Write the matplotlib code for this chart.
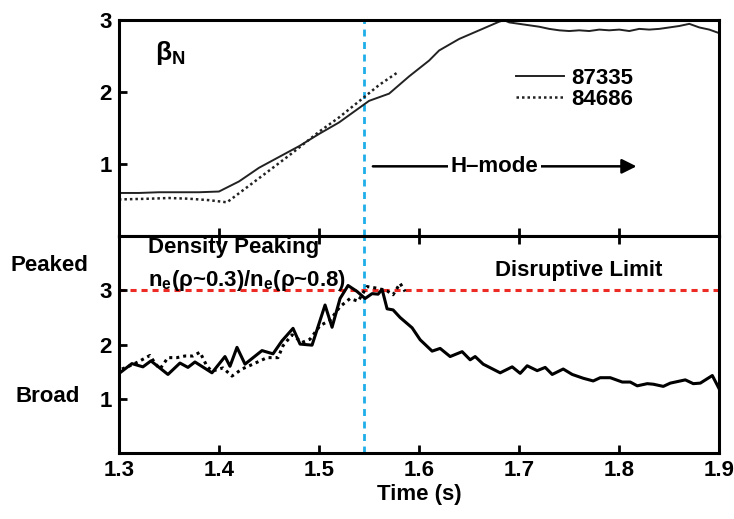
import numpy as np
import matplotlib
matplotlib.use("Agg")
import matplotlib.pyplot as plt

plt.rcParams['font.family'] = ['Liberation Sans', 'DejaVu Sans']
plt.rcParams['font.weight'] = 'bold'
plt.rcParams['axes.labelweight'] = 'bold'
plt.rcParams['mathtext.fontset'] = 'custom'
plt.rcParams['mathtext.rm'] = 'Liberation Sans:bold'
plt.rcParams['mathtext.it'] = 'Liberation Sans:bold'
plt.rcParams['mathtext.bf'] = 'Liberation Sans:bold'

# beta_N, shot 87335 (solid)
t_beta_a = [1.30, 1.32, 1.34, 1.36, 1.38, 1.40, 1.42, 1.44, 1.46, 1.48, 1.50, 1.52,
            1.54, 1.55, 1.56, 1.57, 1.58, 1.59, 1.60, 1.61, 1.62, 1.63, 1.64, 1.65,
            1.66, 1.67, 1.68, 1.685, 1.69, 1.70, 1.71, 1.72, 1.73, 1.74, 1.75, 1.76,
            1.77, 1.78, 1.79, 1.80, 1.81, 1.82, 1.83, 1.84, 1.85, 1.86, 1.87, 1.88,
            1.89, 1.90]
beta_a = [0.60, 0.60, 0.61, 0.61, 0.61, 0.62, 0.76, 0.95, 1.10, 1.25, 1.42, 1.58,
          1.78, 1.88, 1.93, 1.98, 2.10, 2.22, 2.33, 2.44, 2.58, 2.66, 2.74, 2.80,
          2.86, 2.92, 2.98, 3.00, 2.97, 2.95, 2.93, 2.91, 2.88, 2.86, 2.85, 2.86,
          2.85, 2.87, 2.86, 2.87, 2.85, 2.88, 2.87, 2.88, 2.90, 2.92, 2.95, 2.90,
          2.87, 2.82]

# beta_N, shot 84686 (dotted)
t_beta_b = [1.30, 1.33, 1.35, 1.37, 1.39, 1.408, 1.43, 1.451, 1.47, 1.50, 1.52,
            1.545, 1.56, 1.579]
beta_b = [0.51, 0.52, 0.53, 0.52, 0.50, 0.47, 0.70, 0.92, 1.12, 1.45, 1.65,
          1.93, 2.10, 2.28]

# density peaking, shot 87335 (solid)
t_peak_a = [1.301, 1.313, 1.324, 1.332, 1.349, 1.361, 1.369, 1.376, 1.393, 1.406,
            1.411, 1.418, 1.426, 1.443, 1.454, 1.463, 1.474, 1.481, 1.493, 1.506,
            1.513, 1.521, 1.529, 1.538, 1.546, 1.553, 1.559, 1.563, 1.568, 1.574,
            1.581, 1.593, 1.601, 1.613, 1.621, 1.631, 1.643, 1.651, 1.656, 1.664,
            1.681, 1.693, 1.701, 1.708, 1.718, 1.726, 1.733, 1.744, 1.753, 1.764,
            1.774, 1.781, 1.791, 1.803, 1.811, 1.818, 1.828, 1.834, 1.844, 1.851,
            1.866, 1.874, 1.881, 1.893, 1.900]
peak_a = [1.48, 1.65, 1.59, 1.70, 1.45, 1.66, 1.58, 1.68, 1.48, 1.78,
          1.60, 1.95, 1.64, 1.89, 1.83, 2.07, 2.30, 2.01, 1.99, 2.73,
          2.32, 2.85, 3.09, 2.98, 2.85, 2.94, 2.93, 3.02, 2.66, 2.64,
          2.50, 2.31, 2.09, 1.88, 1.93, 1.78, 1.87, 1.72, 1.78, 1.64,
          1.48, 1.59, 1.47, 1.61, 1.52, 1.58, 1.45, 1.55, 1.45, 1.38,
          1.33, 1.39, 1.39, 1.31, 1.31, 1.24, 1.28, 1.27, 1.23, 1.29,
          1.35, 1.28, 1.29, 1.43, 1.18]

# density peaking, shot 84686 (dotted)
t_peak_b = [1.303, 1.311, 1.319, 1.331, 1.336, 1.341, 1.349, 1.358, 1.366, 1.374,
            1.381, 1.388, 1.393, 1.404, 1.413, 1.423, 1.434, 1.448, 1.459, 1.464,
            1.473, 1.483, 1.491, 1.501, 1.511, 1.521, 1.531, 1.539, 1.548, 1.558,
            1.568, 1.574, 1.581, 1.586]
peak_b = [1.55, 1.61, 1.68, 1.80, 1.66, 1.55, 1.76, 1.76, 1.79, 1.79,
          1.86, 1.60, 1.51, 1.57, 1.42, 1.55, 1.64, 1.76, 1.76, 1.98,
          2.18, 2.04, 2.10, 2.35, 2.45, 2.70, 2.85, 2.80, 3.07, 3.04,
          2.99, 2.92, 3.13, 2.98]

shot_labels = ['87335', '84686']
t_hmode = 1.545
disruptive_limit = 3.0
x_ticks = [1.3, 1.4, 1.5, 1.6, 1.7, 1.8, 1.9]

fig = plt.figure(figsize=(7.34, 5.19), dpi=100)
ax1 = fig.add_axes([0.162, 0.545, 0.818, 0.416])
ax2 = fig.add_axes([0.162, 0.127, 0.818, 0.418])

blue = '#1eaee8'
red = '#ee2a24'

for ax in (ax1, ax2):
    ax.set_xlim(1.3, 1.9)
    ax.set_xticks(x_ticks)
    for s in ax.spines.values():
        s.set_linewidth(2.2)
    ax.tick_params(direction='in', length=6, width=2, labelsize=16, pad=5)
    ax.axvline(t_hmode, color=blue, lw=2, ls=(0, (2.5, 2)), zorder=1)

# top panel
l1, = ax1.plot(t_beta_a, beta_a, color='#222222', lw=1.4)
l2, = ax1.plot(t_beta_b, beta_b, color='#222222', lw=1.8, ls=(0, (1, 1.2)))
ax1.set_ylim(0, 3)
ax1.set_yticks([1, 2, 3])
ax1.tick_params(axis='x', labelbottom=False, bottom=True, top=False)
ax1.text(0.06, 0.85, r'$\beta_\mathregular{N}$', transform=ax1.transAxes,
         fontsize=19, va='center', ha='left')
ax1.legend([l1, l2], shot_labels, loc='upper right', bbox_to_anchor=(0.875, 0.83),
           frameon=False, fontsize=16, handlelength=2.2, handletextpad=0.3,
           labelspacing=0.0, borderpad=0)
ax1.annotate('', xy=(1.82, 0.97), xytext=(1.551, 0.97),
             arrowprops=dict(arrowstyle='-|>', color='black', lw=1.8,
                             mutation_scale=22))
ax1.text(1.675, 0.97, 'H\u2013mode', fontsize=16, ha='center', va='center',
         bbox=dict(facecolor='white', edgecolor='none', pad=2))

# bottom panel
ax2.plot(t_peak_a, peak_a, color='black', lw=2.2)
ax2.plot(t_peak_b, peak_b, color='black', lw=2.2, ls=(0, (1, 1.3)))
ax2.axhline(disruptive_limit, color=red, lw=2.2, ls=(0, (2, 1.6)), zorder=1)
ax2.set_ylim(0, 4)
ax2.set_yticks([1, 2, 3])
ax2.tick_params(axis='x', top=True, bottom=True)
ax2.set_xlabel('Time (s)', fontsize=16, fontweight='bold', labelpad=2)
ax2.text(1.329, 3.79, 'Density Peaking', fontsize=16, ha='left', va='center')
ax2.text(1.329, 3.19, r'n$_\mathregular{e}$($\mathregular{\rho}$~0.3)/n$_\mathregular{e}$($\mathregular{\rho}$~0.8)',
         fontsize=16, ha='left', va='center')
ax2.text(1.676, 3.36, 'Disruptive Limit', fontsize=16, ha='left', va='center')
ax2.text(1.231, 3.45, 'Peaked', fontsize=16, ha='center', va='center', clip_on=False)
ax2.text(1.229, 1.04, 'Broad', fontsize=16, ha='center', va='center', clip_on=False)

fig.savefig('out.png', dpi=100)
